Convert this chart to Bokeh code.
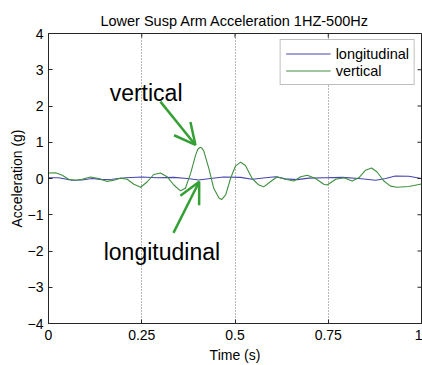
import math
from bokeh.plotting import figure
from bokeh.models import Range1d, FixedTicker, Arrow, OpenHead, Label
from bokeh.embed import file_html
from bokeh.resources import INLINE

# ---- data ----
title_text = "Lower Susp Arm Acceleration 1HZ-500Hz"
x_ticks = [0, 0.25, 0.5, 0.75, 1]
x_tick_labels = ["0", "0.25", "0.5", "0.75", "1"]
y_ticks = [-4, -3, -2, -1, 0, 1, 2, 3, 4]

vert_t = [0, .019, .037, .054, .072, .09, .113, .135, .157, .175, .193, .211,
          .229, .247, .265, .282, .30, .318, .336, .354, .367, .381, .394, .40,
          .406, .411, .416, .43, .443, .457, .464, .475, .488, .501, .515, .528,
          .546, .564, .577, .595, .613, .635, .658, .676, .694, .716, .738, .747,
          .77, .792, .814, .832, .85, .866, .881, .899, .917, .935, .966, 1.0]
vert_v = [.15, .16, .09, -.02, -.05, -.02, .04, 0, -.08, -.05, .01, -.02,
          -.16, -.24, -.09, .11, .15, .05, -.18, -.34, -.27, .14, .63, .80,
          .86, .84, .77, .27, -.27, -.54, -.58, -.45, 0, .34, .45, .36,
          0, -.18, -.23, -.09, .05, -.02, -.07, .05, .09, 0, -.16, -.18,
          -.02, .02, -.07, .02, .23, .29, .18, -.07, -.21, -.24, -.22, -.15]

long_t = [0, .027, .063, .09, .117, .144, .171, .207, .251, .29, .336, .372,
          .403, .434, .469, .515, .546, .582, .609, .635, .667, .698, .743, .788,
          .832, .877, .904, .93, .966, 1.0]
long_v = [.02, .02, -.05, -.04, 0, -.03, -.02, .02, .04, .02, .03, 0,
          -.04, 0, .04, .03, -.02, .02, .05, -.01, -.03, .01, .02, .03,
          0, -.05, 0, .07, .06, 0]

series_names = ["longitudinal", "vertical"]

# annotation positions (data units)
ann_vert_text = (0.164, 2.36)
ann_vert_arrow = (0.300, 2.12, 0.394, 0.925)
ann_long_text = (0.148, -2.04)
ann_long_arrow = (0.335, -1.50, 0.404, -0.09)

FONT = "Liberation Sans"
AX = "#262626"
BLUE = "#4646b0"
GREEN = "#3f8f3f"
ARROW = "#35a035"

x_range = Range1d(0, 1)
y_range = Range1d(-4, 4)

p = figure(width=422, height=365, output_backend="svg", toolbar_location=None,
           x_range=x_range, y_range=y_range,
           min_border_left=48, min_border_right=1, min_border_top=33,
           min_border_bottom=38, title=title_text,
           background_fill_color="white", border_fill_color="white")

p.title.text_font = FONT
p.title.text_font_size = "14.5px"
p.title.text_font_style = "normal"
p.title.text_color = "black"
p.title.align = "center"

p.outline_line_color = AX
p.outline_line_width = 1

p.line(long_t, long_v, line_color=BLUE, line_width=1.1, legend_label=series_names[0])
p.line(vert_t, vert_v, line_color=GREEN, line_width=1.1, legend_label=series_names[1])

for ax in (p.xaxis[0], p.yaxis[0]):
    ax.major_label_text_font = FONT
    ax.major_label_text_font_size = "14px"
    ax.major_label_text_color = "black"
    ax.axis_label_text_font = FONT
    ax.axis_label_text_font_size = "14px"
    ax.axis_label_text_font_style = "normal"
    ax.axis_label_text_color = "black"
    ax.major_tick_in = 4
    ax.major_tick_out = 0
    ax.minor_tick_line_color = None
    ax.axis_line_color = AX
    ax.major_tick_line_color = AX

p.xaxis.ticker = FixedTicker(ticks=x_ticks)
p.xaxis.major_label_overrides = {float(t): l for t, l in zip(x_ticks, x_tick_labels)}
p.xaxis.axis_label = "Time (s)"
p.xaxis.major_label_standoff = 6
p.xaxis.axis_label_standoff = 4

p.yaxis.ticker = FixedTicker(ticks=y_ticks)
p.yaxis.axis_label = "Acceleration (g)"
p.yaxis.major_label_standoff = 5
p.yaxis.axis_label_standoff = 0

# inward ticks on the right and top edges of the box (MATLAB "box on")
p.ray(x=[x_range.end] * len(y_ticks), y=y_ticks, length=4, length_units="screen",
      angle=math.pi, line_color=AX, line_width=1)
p.ray(x=x_ticks, y=[y_range.end] * len(x_ticks), length=4, length_units="screen",
      angle=-math.pi / 2, line_color=AX, line_width=1)

p.xgrid.ticker = FixedTicker(ticks=[0.25, 0.5, 0.75])
p.xgrid.grid_line_color = "#707070"
p.xgrid.grid_line_dash = "1 2"
p.xgrid.grid_line_width = 1
p.ygrid.visible = False

leg = p.legend[0]
leg.location = "top_right"
leg.margin = 6
leg.padding = 5
leg.spacing = 0
leg.label_height = 17
leg.glyph_height = 17
leg.glyph_width = 45
leg.label_standoff = 5
leg.label_text_font = FONT
leg.label_text_font_size = "14.5px"
leg.label_text_color = "black"
leg.border_line_color = "#7f7f7f"
leg.border_line_width = 1
leg.background_fill_color = "white"
leg.background_fill_alpha = 1

p.add_layout(Label(x=ann_vert_text[0], y=ann_vert_text[1], text="vertical",
                   text_font=FONT, text_font_size="23px", text_color="black",
                   text_baseline="alphabetic"))
p.add_layout(Label(x=ann_long_text[0], y=ann_long_text[1], text="longitudinal",
                   text_font=FONT, text_font_size="23px", text_color="black",
                   text_baseline="alphabetic"))
for (xs, ys, xe, ye) in (ann_vert_arrow, ann_long_arrow):
    p.add_layout(Arrow(x_start=xs, y_start=ys, x_end=xe, y_end=ye,
                       line_color=ARROW, line_width=2.5,
                       end=OpenHead(size=21, line_color=ARROW, line_width=2.5)))

open("out.html", "w").write(file_html(p, INLINE))
